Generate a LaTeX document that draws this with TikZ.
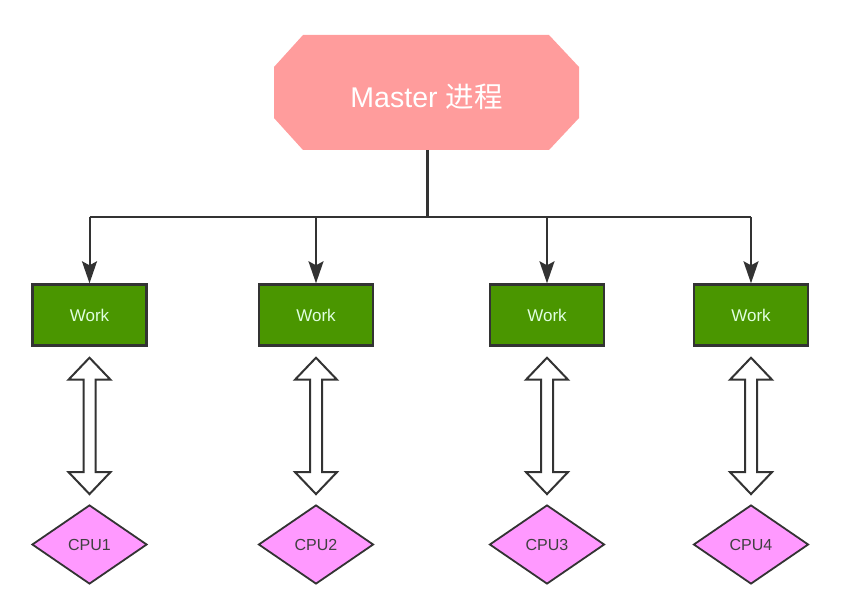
\documentclass[tikz,border=0pt]{standalone}
\usepackage{fontspec}
\setmainfont{Liberation Sans}
\newfontfamily\cjk{Noto Sans CJK SC}
\usetikzlibrary{shapes.geometric,arrows.meta,calc}
\definecolor{masterpink}{HTML}{FF9C9C}
\definecolor{workgreen}{HTML}{4A9600}
\definecolor{cpuviolet}{HTML}{FF99FF}
\definecolor{edgegray}{HTML}{333333}
\tikzset{
  workbox/.style={draw=edgegray,line width=2.4pt,fill=workgreen,minimum width=114pt,minimum height=61pt,inner sep=0pt,text=white!88!green,font=\fontsize{17}{20}\selectfont},
  cpubox/.style={diamond,draw=edgegray,line width=1.8pt,fill=cpuviolet,minimum width=115pt,minimum height=79pt,inner sep=0pt,aspect=1.46,text=black!75,font=\fontsize{16}{19}\selectfont},
  feed/.style={draw=edgegray,line width=2pt,-{Stealth[length=22pt,width=15pt,inset=4pt]}},
  dbl/.style={draw=edgegray,line width=2pt,fill=white},
}
\begin{document}
\begin{tikzpicture}[x=1pt,y=-1pt]
\useasboundingbox (0,0) rectangle (865,615);
% master octagon
\fill[masterpink] (303,35) -- (549,35) -- (579,67) -- (579,118) -- (549,150) -- (303,150) -- (274,118) -- (274,67) -- cycle;
\node[text=white,font=\fontsize{28.5}{33}\selectfont] (master) at (426.5,97) {Master {\cjk 进程}};
\coordinate (mb) at (427,150);
\coordinate (hub) at (427,217);
% work boxes
\node[workbox] (w1) at (89.5,315) {Work};
\node[workbox] (w2) at (316,315) {Work};
\node[workbox] (w3) at (547,315) {Work};
\node[workbox] (w4) at (751,315) {Work};
% cpus
\node[cpubox] (c1) at (89.5,544.5) {CPU1};
\node[cpubox] (c2) at (316,544.5) {CPU2};
\node[cpubox] (c3) at (547,544.5) {CPU3};
\node[cpubox] (c4) at (751,544.5) {CPU4};
% connectors
\draw[edgegray,line width=3pt] (mb) -- (hub);
\draw[edgegray,line width=2.4pt] (w1.north |- hub) -- (w4.north |- hub);
\foreach \n in {w1,w2,w3,w4}{
  \draw[feed] (\n.north |- hub) -- (\n.north);
}
% double arrows
\foreach \n/\c in {w1/c1,w2/c2,w3/c3,w4/c4}{
  \path (\n.south) ++(0,11) coordinate (\n t);
  \path (\c.north) ++(0,-10) coordinate (\c b);
  \draw[dbl,line join=miter] (\n t) -- ++(21,22) -- ++(-15,0) -- ($(\c b)+(6,-22)$) -- ++(15,0) -- (\c b) -- ++(-21,-22) -- ++(15,0) -- ($(\n t)+(-6,22)$) -- ++(-15,0) -- cycle;
}
\end{tikzpicture}
\end{document}
